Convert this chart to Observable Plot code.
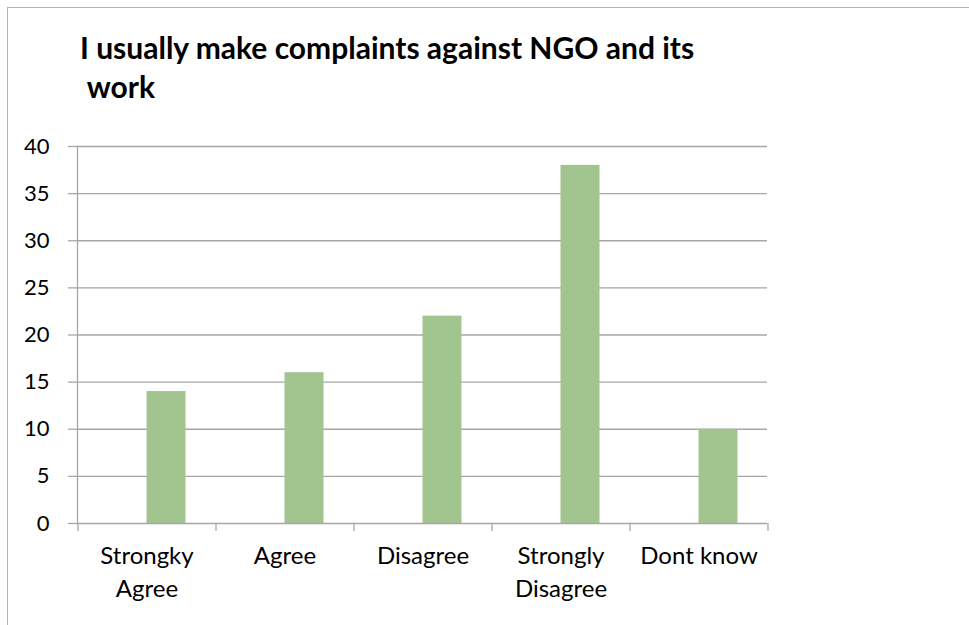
<!DOCTYPE html>
<html>
<head>
<meta charset="utf-8">
<script src="https://cdn.jsdelivr.net/npm/d3@7"></script>
<script src="https://cdn.jsdelivr.net/npm/@observablehq/plot@0.6"></script>
<style>
  html, body { margin: 0; padding: 0; background: #fff; }
  #wrap { position: relative; width: 969px; height: 625px; overflow: hidden; font-family: Lato, "Open Sans", sans-serif; }
  #border { position: absolute; left: 7px; top: 7px; right: -5px; bottom: -5px; border-left: 1.5px solid #b4b4b4; border-top: 1.5px solid #b4b4b4; }
  #title { position: absolute; left: 80px; top: 28px; font-weight: bold; font-size: 30px; line-height: 39px; color: #000; white-space: pre; }
  #chart { position: absolute; left: 0; top: 120px; }
</style>
</head>
<body>
<div id="wrap">
  <div id="border"></div>
  <div id="title">I usually make complaints against NGO and its
 work</div>
  <div id="chart"></div>
</div>
<script>
const categories = ["Strongky\nAgree", "Agree", "Disagree", "Strongly\nDisagree", "Dont know"];
const values = [14, 16, 22, 38, 10];
const yTicks = [0, 5, 10, 15, 20, 25, 30, 35, 40];

const data = categories.map((c, i) => ({category: c, value: values[i]}));

const W = 969, H = 505, mL = 77, mR = 202, mT = 26, mB = 102;
const step = (W - mL - mR) / categories.length;
const barFrac = 39 / 138;
const pad = 1 - barFrac;
const grid = "#a6a6a6";

const chart = Plot.plot({
  width: W,
  height: H,
  marginLeft: mL,
  marginRight: mR,
  marginTop: mT,
  marginBottom: mB,
  style: {fontFamily: "Lato, 'Open Sans', sans-serif", fontSize: "22px", color: "#000", background: "transparent"},
  x: {domain: categories, paddingInner: pad, paddingOuter: pad / 2, label: null},
  y: {domain: [0, 40], label: null},
  marks: [
    Plot.ruleY(yTicks.filter(t => t > 0), {stroke: grid, strokeWidth: 1.3}),
    Plot.barY(data, {x: "category", y: "value", fill: "#a2c48f", dx: 39 / 2}),
    Plot.axisY({ticks: yTicks, tickSize: 9, tickPadding: 19, stroke: grid, strokeWidth: 1.3, fontSize: 22, label: null}),
    Plot.ruleY([0], {stroke: grid, strokeWidth: 1.3}),
    Plot.frame({anchor: "left", stroke: grid, strokeWidth: 1.3}),
    Plot.ruleX(categories, {x: d => d, y1: 0, y2: 0, insetBottom: -8, dx: -step / 2, stroke: grid, strokeWidth: 1.3}),
    Plot.ruleX(categories.slice(-1), {x: d => d, y1: 0, y2: 0, insetBottom: -8, dx: step / 2, stroke: grid, strokeWidth: 1.3}),
    Plot.axisX({tickSize: 0, tickPadding: 17, fontSize: 24, lineHeight: 1.375, label: null})
  ]
});

document.getElementById("chart").appendChild(chart);
</script>
</body>
</html>
